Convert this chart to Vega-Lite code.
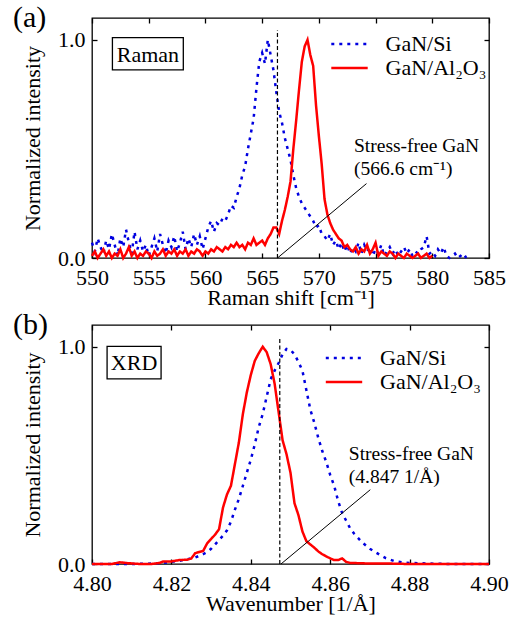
{
  "$schema": "https://vega.github.io/schema/vega-lite/v6.json",
  "padding": {"left": 12, "top": 2, "right": 5, "bottom": 5},
  "background": "white",
  "config": {
    "font": "Liberation Serif",
    "view": {"stroke": "black", "strokeWidth": 1.3},
    "axis": {"labelFont": "Liberation Serif", "titleFont": "Liberation Serif", "labelFontSize": 22, "titleFontSize": 22, "titleFontWeight": "normal", "labelColor": "black", "titleColor": "black", "tickColor": "black", "tickSize": -5, "tickWidth": 1.3, "domain": false, "grid": false, "labelFlush": false},
    "axisX": {"labelPadding": 14, "titlePadding": -1},
    "axisY": {"labelPadding": 12, "titlePadding": 13},
    "text": {"font": "Liberation Serif", "color": "black", "baseline": "alphabetic"}
  },
  "spacing": 0,
  "resolve": {"scale": {"x": "independent", "y": "independent", "color": "independent", "strokeDash": "independent"}, "legend": {"color": "independent", "strokeDash": "independent"}},
  "vconcat": [
    {
      "width": 397, "height": 240,
      "resolve": {"axis": {"x": "independent", "y": "independent"}},
      "layer": [
        {
          "data": {"values": [{"x": 551.8, "x2": 558.05, "y": 0.862, "y2": 1.01}]},
          "mark": {"type": "rect", "fill": "white", "stroke": "black", "strokeWidth": 1.3},
          "encoding": {
            "x": {"field": "x", "type": "quantitative", "scale": {"domain": [550, 585], "nice": false, "zero": false}, "axis": {"orient": "top", "values": [550, 555, 560, 565, 570, 575, 580, 585], "labels": false, "title": null}},
            "x2": {"field": "x2"},
            "y": {"field": "y", "type": "quantitative", "scale": {"domain": [0, 1.1], "nice": false, "zero": false}, "axis": {"orient": "right", "values": [0, 1], "labels": false, "title": null}},
            "y2": {"field": "y2"}
          }
        },
        {
          "data": {"values": [
            {"s":"Si","x":550.00,"y":0.07},{"s":"Si","x":550.25,"y":0.03},{"s":"Si","x":550.50,"y":0.09},{"s":"Si","x":550.75,"y":0.05},
            {"s":"Si","x":551.00,"y":0.02},{"s":"Si","x":551.25,"y":0.08},{"s":"Si","x":551.50,"y":0.04},{"s":"Si","x":551.75,"y":0.11},
            {"s":"Si","x":552.00,"y":0.06},{"s":"Si","x":552.25,"y":0.01},{"s":"Si","x":552.50,"y":0.09},{"s":"Si","x":552.75,"y":0.05},
            {"s":"Si","x":553.00,"y":0.13},{"s":"Si","x":553.25,"y":0.07},{"s":"Si","x":553.50,"y":0.02},{"s":"Si","x":553.75,"y":0.12},
            {"s":"Si","x":554.00,"y":0.04},{"s":"Si","x":554.25,"y":0.08},{"s":"Si","x":554.50,"y":0.03},{"s":"Si","x":554.75,"y":0.06},
            {"s":"Si","x":555.00,"y":0.01},{"s":"Si","x":555.25,"y":0.05},{"s":"Si","x":555.50,"y":0.09},{"s":"Si","x":555.75,"y":0.03},
            {"s":"Si","x":556.00,"y":0.11},{"s":"Si","x":556.25,"y":0.06},{"s":"Si","x":556.50,"y":0.02},{"s":"Si","x":556.75,"y":0.08},
            {"s":"Si","x":557.00,"y":0.05},{"s":"Si","x":557.25,"y":0.10},{"s":"Si","x":557.50,"y":0.03},{"s":"Si","x":557.75,"y":0.07},
            {"s":"Si","x":558.00,"y":0.12},{"s":"Si","x":558.25,"y":0.04},{"s":"Si","x":558.50,"y":0.09},{"s":"Si","x":558.75,"y":0.05},
            {"s":"Si","x":559.00,"y":0.11},{"s":"Si","x":559.25,"y":0.06},{"s":"Si","x":559.50,"y":0.10},{"s":"Si","x":559.75,"y":0.04},
            {"s":"Si","x":560.00,"y":0.09},{"s":"Si","x":560.25,"y":0.14},{"s":"Si","x":560.50,"y":0.17},{"s":"Si","x":560.75,"y":0.12},
            {"s":"Si","x":561.00,"y":0.16},{"s":"Si","x":561.25,"y":0.15},{"s":"Si","x":561.50,"y":0.18},{"s":"Si","x":561.75,"y":0.17},
            {"s":"Si","x":562.00,"y":0.20},{"s":"Si","x":562.25,"y":0.24},{"s":"Si","x":562.50,"y":0.23},{"s":"Si","x":562.75,"y":0.28},
            {"s":"Si","x":563.00,"y":0.32},{"s":"Si","x":563.25,"y":0.38},{"s":"Si","x":563.50,"y":0.42},{"s":"Si","x":563.75,"y":0.50},
            {"s":"Si","x":564.00,"y":0.57},{"s":"Si","x":564.25,"y":0.64},{"s":"Si","x":564.50,"y":0.78},{"s":"Si","x":564.75,"y":0.90},
            {"s":"Si","x":565.00,"y":0.94},{"s":"Si","x":565.25,"y":0.89},{"s":"Si","x":565.50,"y":1.00},{"s":"Si","x":565.75,"y":0.93},
            {"s":"Si","x":566.00,"y":0.86},{"s":"Si","x":566.25,"y":0.76},{"s":"Si","x":566.50,"y":0.67},{"s":"Si","x":566.75,"y":0.62},
            {"s":"Si","x":567.00,"y":0.55},{"s":"Si","x":567.25,"y":0.50},{"s":"Si","x":567.50,"y":0.45},{"s":"Si","x":567.75,"y":0.38},
            {"s":"Si","x":568.00,"y":0.32},{"s":"Si","x":568.25,"y":0.28},{"s":"Si","x":568.50,"y":0.25},{"s":"Si","x":568.75,"y":0.23},
            {"s":"Si","x":569.00,"y":0.21},{"s":"Si","x":569.25,"y":0.19},{"s":"Si","x":569.50,"y":0.17},{"s":"Si","x":569.75,"y":0.14},
            {"s":"Si","x":570.00,"y":0.15},{"s":"Si","x":570.25,"y":0.11},{"s":"Si","x":570.50,"y":0.10},{"s":"Si","x":570.75,"y":0.08},
            {"s":"Si","x":571.00,"y":0.11},{"s":"Si","x":571.25,"y":0.06},{"s":"Si","x":571.50,"y":0.08},{"s":"Si","x":571.75,"y":0.04},
            {"s":"Si","x":572.00,"y":0.07},{"s":"Si","x":572.25,"y":0.03},{"s":"Si","x":572.50,"y":0.06},{"s":"Si","x":572.75,"y":0.02},
            {"s":"Si","x":573.00,"y":0.05},{"s":"Si","x":573.25,"y":0.03},{"s":"Si","x":573.50,"y":0.07},{"s":"Si","x":573.75,"y":0.02},
            {"s":"Si","x":574.00,"y":0.06},{"s":"Si","x":574.25,"y":0.03},{"s":"Si","x":574.50,"y":0.05},{"s":"Si","x":574.75,"y":0.01},
            {"s":"Si","x":575.00,"y":0.04},{"s":"Si","x":575.25,"y":0.02},{"s":"Si","x":575.50,"y":0.06},{"s":"Si","x":575.75,"y":0.01},
            {"s":"Si","x":576.00,"y":0.03},{"s":"Si","x":576.25,"y":0.05},{"s":"Si","x":576.50,"y":0.02},{"s":"Si","x":576.75,"y":0.04},
            {"s":"Si","x":577.00,"y":0.01},{"s":"Si","x":577.25,"y":0.03},{"s":"Si","x":577.50,"y":0.05},{"s":"Si","x":577.75,"y":0.02},
            {"s":"Si","x":578.00,"y":0.04},{"s":"Si","x":578.25,"y":0.01},{"s":"Si","x":578.50,"y":0.03},{"s":"Si","x":578.75,"y":0.02},
            {"s":"Si","x":579.00,"y":0.04},{"s":"Si","x":579.25,"y":0.05},{"s":"Si","x":579.50,"y":0.10},{"s":"Si","x":579.75,"y":0.02},
            {"s":"Si","x":580.00,"y":0.03},{"s":"Si","x":580.25,"y":0.01},{"s":"Si","x":580.50,"y":0.04},{"s":"Si","x":580.75,"y":0.02},
            {"s":"Si","x":581.00,"y":0.05},{"s":"Si","x":581.25,"y":0.01},{"s":"Si","x":581.50,"y":0.00},{"s":"Si","x":581.75,"y":0.01},
            {"s":"Si","x":582.00,"y":0.02},{"s":"Si","x":582.25,"y":0.00},{"s":"Si","x":582.50,"y":0.01},{"s":"Si","x":582.75,"y":0.02},
            {"s":"Si","x":583.00,"y":0.00},
            {"s":"Al","x":550.00,"y":0.01},{"s":"Al","x":550.25,"y":0.03},{"s":"Al","x":550.50,"y":0.00},{"s":"Al","x":550.75,"y":0.02},
            {"s":"Al","x":551.00,"y":0.04},{"s":"Al","x":551.25,"y":0.01},{"s":"Al","x":551.50,"y":0.03},{"s":"Al","x":551.75,"y":0.00},
            {"s":"Al","x":552.00,"y":0.02},{"s":"Al","x":552.25,"y":0.01},{"s":"Al","x":552.50,"y":0.04},{"s":"Al","x":552.75,"y":0.00},
            {"s":"Al","x":553.00,"y":0.02},{"s":"Al","x":553.25,"y":0.05},{"s":"Al","x":553.50,"y":0.01},{"s":"Al","x":553.75,"y":0.03},
            {"s":"Al","x":554.00,"y":0.00},{"s":"Al","x":554.25,"y":0.02},{"s":"Al","x":554.50,"y":0.01},{"s":"Al","x":554.75,"y":0.03},
            {"s":"Al","x":555.00,"y":0.02},{"s":"Al","x":555.25,"y":0.00},{"s":"Al","x":555.50,"y":0.03},{"s":"Al","x":555.75,"y":0.01},
            {"s":"Al","x":556.00,"y":0.02},{"s":"Al","x":556.25,"y":0.04},{"s":"Al","x":556.50,"y":0.01},{"s":"Al","x":556.75,"y":0.03},
            {"s":"Al","x":557.00,"y":0.02},{"s":"Al","x":557.25,"y":0.04},{"s":"Al","x":557.50,"y":0.01},{"s":"Al","x":557.75,"y":0.03},
            {"s":"Al","x":558.00,"y":0.02},{"s":"Al","x":558.25,"y":0.04},{"s":"Al","x":558.50,"y":0.01},{"s":"Al","x":558.75,"y":0.03},
            {"s":"Al","x":559.00,"y":0.02},{"s":"Al","x":559.25,"y":0.04},{"s":"Al","x":559.50,"y":0.03},{"s":"Al","x":559.75,"y":0.01},
            {"s":"Al","x":560.00,"y":0.03},{"s":"Al","x":560.25,"y":0.02},{"s":"Al","x":560.50,"y":0.04},{"s":"Al","x":560.75,"y":0.03},
            {"s":"Al","x":561.00,"y":0.05},{"s":"Al","x":561.25,"y":0.04},{"s":"Al","x":561.50,"y":0.03},{"s":"Al","x":561.75,"y":0.05},
            {"s":"Al","x":562.00,"y":0.04},{"s":"Al","x":562.25,"y":0.06},{"s":"Al","x":562.50,"y":0.05},{"s":"Al","x":562.75,"y":0.07},
            {"s":"Al","x":563.00,"y":0.05},{"s":"Al","x":563.25,"y":0.06},{"s":"Al","x":563.50,"y":0.04},{"s":"Al","x":563.75,"y":0.07},
            {"s":"Al","x":564.00,"y":0.06},{"s":"Al","x":564.25,"y":0.09},{"s":"Al","x":564.50,"y":0.06},{"s":"Al","x":564.75,"y":0.07},
            {"s":"Al","x":565.00,"y":0.08},{"s":"Al","x":565.25,"y":0.06},{"s":"Al","x":565.50,"y":0.09},{"s":"Al","x":565.75,"y":0.11},
            {"s":"Al","x":566.00,"y":0.14},{"s":"Al","x":566.25,"y":0.14},{"s":"Al","x":566.50,"y":0.11},{"s":"Al","x":566.75,"y":0.17},
            {"s":"Al","x":567.00,"y":0.22},{"s":"Al","x":567.25,"y":0.28},{"s":"Al","x":567.50,"y":0.35},{"s":"Al","x":567.75,"y":0.50},
            {"s":"Al","x":568.00,"y":0.63},{"s":"Al","x":568.25,"y":0.77},{"s":"Al","x":568.50,"y":0.90},{"s":"Al","x":568.75,"y":0.97},
            {"s":"Al","x":569.00,"y":1.00},{"s":"Al","x":569.25,"y":0.93},{"s":"Al","x":569.50,"y":0.88},{"s":"Al","x":569.75,"y":0.70},
            {"s":"Al","x":570.00,"y":0.56},{"s":"Al","x":570.25,"y":0.43},{"s":"Al","x":570.50,"y":0.27},{"s":"Al","x":570.75,"y":0.20},
            {"s":"Al","x":571.00,"y":0.16},{"s":"Al","x":571.25,"y":0.13},{"s":"Al","x":571.50,"y":0.11},{"s":"Al","x":571.75,"y":0.09},
            {"s":"Al","x":572.00,"y":0.08},{"s":"Al","x":572.25,"y":0.05},{"s":"Al","x":572.50,"y":0.06},{"s":"Al","x":572.75,"y":0.04},
            {"s":"Al","x":573.00,"y":0.03},{"s":"Al","x":573.25,"y":0.05},{"s":"Al","x":573.50,"y":0.02},{"s":"Al","x":573.75,"y":0.04},
            {"s":"Al","x":574.00,"y":0.03},{"s":"Al","x":574.25,"y":0.06},{"s":"Al","x":574.50,"y":0.02},{"s":"Al","x":574.75,"y":0.04},
            {"s":"Al","x":575.00,"y":0.07},{"s":"Al","x":575.25,"y":0.01},{"s":"Al","x":575.50,"y":0.03},{"s":"Al","x":575.75,"y":0.02},
            {"s":"Al","x":576.00,"y":0.01},{"s":"Al","x":576.25,"y":0.03},{"s":"Al","x":576.50,"y":0.02},{"s":"Al","x":576.75,"y":0.00},
            {"s":"Al","x":577.00,"y":0.02},{"s":"Al","x":577.25,"y":0.01},{"s":"Al","x":577.50,"y":0.00},{"s":"Al","x":577.75,"y":0.02},
            {"s":"Al","x":578.00,"y":0.01},{"s":"Al","x":578.25,"y":0.00},{"s":"Al","x":578.50,"y":0.01},{"s":"Al","x":578.75,"y":0.02},
            {"s":"Al","x":579.00,"y":0.00},{"s":"Al","x":579.25,"y":0.01},{"s":"Al","x":579.50,"y":0.02},{"s":"Al","x":579.75,"y":0.00},
            {"s":"Al","x":580.00,"y":0.01}
          ]},
          "mark": {"type": "line", "strokeWidth": 2.5},
          "encoding": {
            "x": {"field": "x", "type": "quantitative", "scale": {"domain": [550, 585], "nice": false, "zero": false}, "axis": {"orient": "bottom", "values": [550, 555, 560, 565, 570, 575, 580, 585], "title": "Raman shift [cm⁻¹]"}},
            "y": {"field": "y", "type": "quantitative", "scale": {"domain": [0, 1.1], "nice": false, "zero": false}, "axis": {"orient": "left", "values": [0, 1], "format": ".1f", "title": "Normalized intensity"}},
            "color": {"field": "s", "type": "nominal", "scale": {"domain": ["Si", "Al"], "range": ["#0000e0", "#ff0000"]},
              "legend": {"title": null, "orient": "none", "legendX": 246.5, "legendY": 15, "symbolType": "M-2.6,0H2.6", "symbolSize": 196, "symbolStrokeWidth": 2.5, "labelFontSize": 22, "labelFont": "Liberation Serif", "labelColor": "black", "labelOffset": 25, "rowPadding": 2, "padding": 0, "labelLimit": 300, "labelExpr": "datum.label == 'Si' ? 'GaN/Si' : 'GaN/Al₂O₃'"}},
            "strokeDash": {"field": "s", "type": "nominal", "scale": {"domain": ["Si", "Al"], "range": [[3, 5], [1, 0]]},
              "legend": {"title": null, "orient": "none", "legendX": 246.5, "legendY": 15, "symbolType": "M-2.6,0H2.6", "symbolSize": 196, "symbolStrokeWidth": 2.5, "labelFontSize": 22, "labelFont": "Liberation Serif", "labelColor": "black", "labelOffset": 25, "rowPadding": 2, "padding": 0, "labelLimit": 300, "labelExpr": "datum.label == 'Si' ? 'GaN/Si' : 'GaN/Al₂O₃'"}}
          }
        },
        {
          "data": {"values": [{"x": 566.35, "y": 0, "y2": 1.045}]},
          "mark": {"type": "rule", "color": "black", "strokeWidth": 1.2, "strokeDash": [4, 2.5]},
          "encoding": {"x": {"field": "x", "type": "quantitative", "scale": {"domain": [550, 585], "nice": false, "zero": false}, "axis": null}, "y": {"field": "y", "type": "quantitative", "scale": {"domain": [0, 1.1], "nice": false, "zero": false}, "axis": null}, "y2": {"field": "y2"}}
        },
        {
          "data": {"values": [{"x": 566.35, "y": 0, "x2": 574.2, "y2": 0.341}]},
          "mark": {"type": "rule", "color": "black", "strokeWidth": 1},
          "encoding": {"x": {"field": "x", "type": "quantitative", "scale": {"domain": [550, 585], "nice": false, "zero": false}, "axis": null}, "x2": {"field": "x2"}, "y": {"field": "y", "type": "quantitative", "scale": {"domain": [0, 1.1], "nice": false, "zero": false}, "axis": null}, "y2": {"field": "y2"}}
        },
        {
          "data": {"values": [{"x": 554.93, "y": 0.9, "t": "Raman"}]},
          "mark": {"type": "text", "align": "center", "fontSize": 22},
          "encoding": {"x": {"field": "x", "type": "quantitative", "scale": {"domain": [550, 585], "nice": false, "zero": false}, "axis": null}, "y": {"field": "y", "type": "quantitative", "scale": {"domain": [0, 1.1], "nice": false, "zero": false}, "axis": null}, "text": {"field": "t"}}
        },
        {
          "data": {"values": [{"x": 573.1, "y": 0.487, "t": "Stress-free GaN"}, {"x": 573.1, "y": 0.381, "t": "(566.6 cm⁻¹)"}]},
          "mark": {"type": "text", "align": "left", "fontSize": 19.5},
          "encoding": {"x": {"field": "x", "type": "quantitative", "scale": {"domain": [550, 585], "nice": false, "zero": false}, "axis": null}, "y": {"field": "y", "type": "quantitative", "scale": {"domain": [0, 1.1], "nice": false, "zero": false}, "axis": null}, "text": {"field": "t"}}
        },
        {
          "data": {"values": [{"x": 543.03, "y": 1.059, "t": "(a)"}]},
          "mark": {"type": "text", "align": "left", "fontSize": 30},
          "encoding": {"x": {"field": "x", "type": "quantitative", "scale": {"domain": [550, 585], "nice": false, "zero": false}, "axis": null}, "y": {"field": "y", "type": "quantitative", "scale": {"domain": [0, 1.1], "nice": false, "zero": false}, "axis": null}, "text": {"field": "t"}}
        }
      ]
    },
    {
      "width": 397, "height": 239,
      "resolve": {"axis": {"x": "independent", "y": "independent"}},
      "layer": [
        {
          "data": {"values": [{"x": 4.8038, "x2": 4.8174, "y": 0.8525, "y2": 1.0014}]},
          "mark": {"type": "rect", "fill": "white", "stroke": "black", "strokeWidth": 1.3},
          "encoding": {
            "x": {"field": "x", "type": "quantitative", "scale": {"domain": [4.8, 4.9], "nice": false, "zero": false}, "axis": {"orient": "top", "values": [4.8, 4.82, 4.84, 4.86, 4.88, 4.9], "labels": false, "title": null}},
            "x2": {"field": "x2"},
            "y": {"field": "y", "type": "quantitative", "scale": {"domain": [0, 1.1], "nice": false, "zero": false}, "axis": {"orient": "right", "values": [0, 1], "labels": false, "title": null}},
            "y2": {"field": "y2"}
          }
        },
        {
          "data": {"values": [
            {"s":"Si","x":4.800,"y":0.0},{"s":"Si","x":4.805,"y":0.0},{"s":"Si","x":4.810,"y":0.0},{"s":"Si","x":4.815,"y":0.002},
            {"s":"Si","x":4.818,"y":0.005},{"s":"Si","x":4.820,"y":0.01},{"s":"Si","x":4.822,"y":0.015},{"s":"Si","x":4.824,"y":0.022},
            {"s":"Si","x":4.826,"y":0.03},{"s":"Si","x":4.828,"y":0.045},{"s":"Si","x":4.829,"y":0.055},{"s":"Si","x":4.830,"y":0.07},
            {"s":"Si","x":4.831,"y":0.09},{"s":"Si","x":4.832,"y":0.11},{"s":"Si","x":4.833,"y":0.13},{"s":"Si","x":4.834,"y":0.155},
            {"s":"Si","x":4.835,"y":0.195},{"s":"Si","x":4.836,"y":0.25},{"s":"Si","x":4.837,"y":0.30},{"s":"Si","x":4.838,"y":0.36},
            {"s":"Si","x":4.839,"y":0.42},{"s":"Si","x":4.840,"y":0.48},{"s":"Si","x":4.841,"y":0.55},{"s":"Si","x":4.842,"y":0.63},
            {"s":"Si","x":4.843,"y":0.69},{"s":"Si","x":4.844,"y":0.77},{"s":"Si","x":4.845,"y":0.85},{"s":"Si","x":4.846,"y":0.89},
            {"s":"Si","x":4.847,"y":0.925},{"s":"Si","x":4.848,"y":0.965},{"s":"Si","x":4.849,"y":0.99},{"s":"Si","x":4.850,"y":0.985},
            {"s":"Si","x":4.851,"y":0.965},{"s":"Si","x":4.852,"y":0.93},{"s":"Si","x":4.853,"y":0.89},{"s":"Si","x":4.854,"y":0.80},
            {"s":"Si","x":4.855,"y":0.71},{"s":"Si","x":4.856,"y":0.65},{"s":"Si","x":4.857,"y":0.58},{"s":"Si","x":4.858,"y":0.52},
            {"s":"Si","x":4.859,"y":0.47},{"s":"Si","x":4.860,"y":0.41},{"s":"Si","x":4.861,"y":0.36},{"s":"Si","x":4.862,"y":0.29},
            {"s":"Si","x":4.863,"y":0.235},{"s":"Si","x":4.864,"y":0.20},{"s":"Si","x":4.865,"y":0.165},{"s":"Si","x":4.866,"y":0.14},
            {"s":"Si","x":4.867,"y":0.12},{"s":"Si","x":4.868,"y":0.10},{"s":"Si","x":4.869,"y":0.085},{"s":"Si","x":4.870,"y":0.07},
            {"s":"Si","x":4.872,"y":0.048},{"s":"Si","x":4.874,"y":0.027},{"s":"Si","x":4.876,"y":0.014},{"s":"Si","x":4.878,"y":0.008},
            {"s":"Si","x":4.880,"y":0.005},{"s":"Si","x":4.885,"y":0.002},{"s":"Si","x":4.890,"y":0.0},{"s":"Si","x":4.895,"y":0.0},
            {"s":"Si","x":4.900,"y":0.0},
            {"s":"Al","x":4.800,"y":0.0},{"s":"Al","x":4.805,"y":0.0},{"s":"Al","x":4.807,"y":0.008},{"s":"Al","x":4.809,"y":0.004},
            {"s":"Al","x":4.812,"y":0.0},{"s":"Al","x":4.815,"y":0.0},{"s":"Al","x":4.817,"y":0.005},{"s":"Al","x":4.818,"y":0.012},
            {"s":"Al","x":4.820,"y":0.012},{"s":"Al","x":4.822,"y":0.018},{"s":"Al","x":4.824,"y":0.02},{"s":"Al","x":4.825,"y":0.025},
            {"s":"Al","x":4.826,"y":0.05},{"s":"Al","x":4.827,"y":0.055},{"s":"Al","x":4.828,"y":0.06},{"s":"Al","x":4.829,"y":0.095},
            {"s":"Al","x":4.830,"y":0.115},{"s":"Al","x":4.831,"y":0.135},{"s":"Al","x":4.832,"y":0.16},{"s":"Al","x":4.833,"y":0.26},
            {"s":"Al","x":4.834,"y":0.32},{"s":"Al","x":4.835,"y":0.36},{"s":"Al","x":4.836,"y":0.46},{"s":"Al","x":4.837,"y":0.56},
            {"s":"Al","x":4.838,"y":0.69},{"s":"Al","x":4.839,"y":0.79},{"s":"Al","x":4.840,"y":0.87},{"s":"Al","x":4.841,"y":0.935},
            {"s":"Al","x":4.842,"y":0.97},{"s":"Al","x":4.843,"y":1.0},{"s":"Al","x":4.844,"y":0.975},{"s":"Al","x":4.845,"y":0.92},
            {"s":"Al","x":4.846,"y":0.83},{"s":"Al","x":4.847,"y":0.70},{"s":"Al","x":4.848,"y":0.57},{"s":"Al","x":4.849,"y":0.505},
            {"s":"Al","x":4.850,"y":0.42},{"s":"Al","x":4.851,"y":0.28},{"s":"Al","x":4.852,"y":0.225},{"s":"Al","x":4.853,"y":0.15},
            {"s":"Al","x":4.854,"y":0.105},{"s":"Al","x":4.855,"y":0.09},{"s":"Al","x":4.856,"y":0.075},{"s":"Al","x":4.857,"y":0.058},
            {"s":"Al","x":4.858,"y":0.045},{"s":"Al","x":4.859,"y":0.035},{"s":"Al","x":4.860,"y":0.026},{"s":"Al","x":4.861,"y":0.018},
            {"s":"Al","x":4.862,"y":0.018},{"s":"Al","x":4.863,"y":0.026},{"s":"Al","x":4.864,"y":0.01},{"s":"Al","x":4.865,"y":0.005},
            {"s":"Al","x":4.870,"y":0.002},{"s":"Al","x":4.875,"y":0.002},{"s":"Al","x":4.880,"y":0.0},{"s":"Al","x":4.890,"y":0.0},
            {"s":"Al","x":4.900,"y":0.0}
          ]},
          "mark": {"type": "line", "strokeWidth": 2.5},
          "encoding": {
            "x": {"field": "x", "type": "quantitative", "scale": {"domain": [4.8, 4.9], "nice": false, "zero": false}, "axis": {"orient": "bottom", "values": [4.8, 4.82, 4.84, 4.86, 4.88, 4.9], "format": ".2f", "title": "Wavenumber [1/Å]"}},
            "y": {"field": "y", "type": "quantitative", "scale": {"domain": [0, 1.1], "nice": false, "zero": false}, "axis": {"orient": "left", "values": [0, 1], "format": ".1f", "title": "Normalized intensity"}},
            "color": {"field": "s", "type": "nominal", "scale": {"domain": ["Si", "Al"], "range": ["#0000e0", "#ff0000"]},
              "legend": {"title": null, "orient": "none", "legendX": 241, "legendY": 22, "symbolType": "M-2.6,0H2.6", "symbolSize": 196, "symbolStrokeWidth": 2.5, "labelFontSize": 22, "labelFont": "Liberation Serif", "labelColor": "black", "labelOffset": 25, "rowPadding": 2, "padding": 0, "labelLimit": 300, "labelExpr": "datum.label == 'Si' ? 'GaN/Si' : 'GaN/Al₂O₃'"}},
            "strokeDash": {"field": "s", "type": "nominal", "scale": {"domain": ["Si", "Al"], "range": [[3, 5], [1, 0]]},
              "legend": {"title": null, "orient": "none", "legendX": 241, "legendY": 22, "symbolType": "M-2.6,0H2.6", "symbolSize": 196, "symbolStrokeWidth": 2.5, "labelFontSize": 22, "labelFont": "Liberation Serif", "labelColor": "black", "labelOffset": 25, "rowPadding": 2, "padding": 0, "labelLimit": 300, "labelExpr": "datum.label == 'Si' ? 'GaN/Si' : 'GaN/Al₂O₃'"}}
          }
        },
        {
          "data": {"values": [{"x": 4.8473, "y": 0, "y2": 1.045}]},
          "mark": {"type": "rule", "color": "black", "strokeWidth": 1.2, "strokeDash": [4, 2.5]},
          "encoding": {"x": {"field": "x", "type": "quantitative", "scale": {"domain": [4.8, 4.9], "nice": false, "zero": false}, "axis": null}, "y": {"field": "y", "type": "quantitative", "scale": {"domain": [0, 1.1], "nice": false, "zero": false}, "axis": null}, "y2": {"field": "y2"}}
        },
        {
          "data": {"values": [{"x": 4.8476, "y": 0, "x2": 4.8701, "y2": 0.342}]},
          "mark": {"type": "rule", "color": "black", "strokeWidth": 1},
          "encoding": {"x": {"field": "x", "type": "quantitative", "scale": {"domain": [4.8, 4.9], "nice": false, "zero": false}, "axis": null}, "x2": {"field": "x2"}, "y": {"field": "y", "type": "quantitative", "scale": {"domain": [0, 1.1], "nice": false, "zero": false}, "axis": null}, "y2": {"field": "y2"}}
        },
        {
          "data": {"values": [{"x": 4.8106, "y": 0.894, "t": "XRD"}]},
          "mark": {"type": "text", "align": "center", "fontSize": 22},
          "encoding": {"x": {"field": "x", "type": "quantitative", "scale": {"domain": [4.8, 4.9], "nice": false, "zero": false}, "axis": null}, "y": {"field": "y", "type": "quantitative", "scale": {"domain": [0, 1.1], "nice": false, "zero": false}, "axis": null}, "text": {"field": "t"}}
        },
        {
          "data": {"values": [{"x": 4.8647, "y": 0.48, "t": "Stress-free GaN"}, {"x": 4.8647, "y": 0.372, "t": "(4.847 1/Å)"}]},
          "mark": {"type": "text", "align": "left", "fontSize": 19.5},
          "encoding": {"x": {"field": "x", "type": "quantitative", "scale": {"domain": [4.8, 4.9], "nice": false, "zero": false}, "axis": null}, "y": {"field": "y", "type": "quantitative", "scale": {"domain": [0, 1.1], "nice": false, "zero": false}, "axis": null}, "text": {"field": "t"}}
        },
        {
          "data": {"values": [{"x": 4.7801, "y": 1.0575, "t": "(b)"}]},
          "mark": {"type": "text", "align": "left", "fontSize": 30},
          "encoding": {"x": {"field": "x", "type": "quantitative", "scale": {"domain": [4.8, 4.9], "nice": false, "zero": false}, "axis": null}, "y": {"field": "y", "type": "quantitative", "scale": {"domain": [0, 1.1], "nice": false, "zero": false}, "axis": null}, "text": {"field": "t"}}
        }
      ]
    }
  ]
}
